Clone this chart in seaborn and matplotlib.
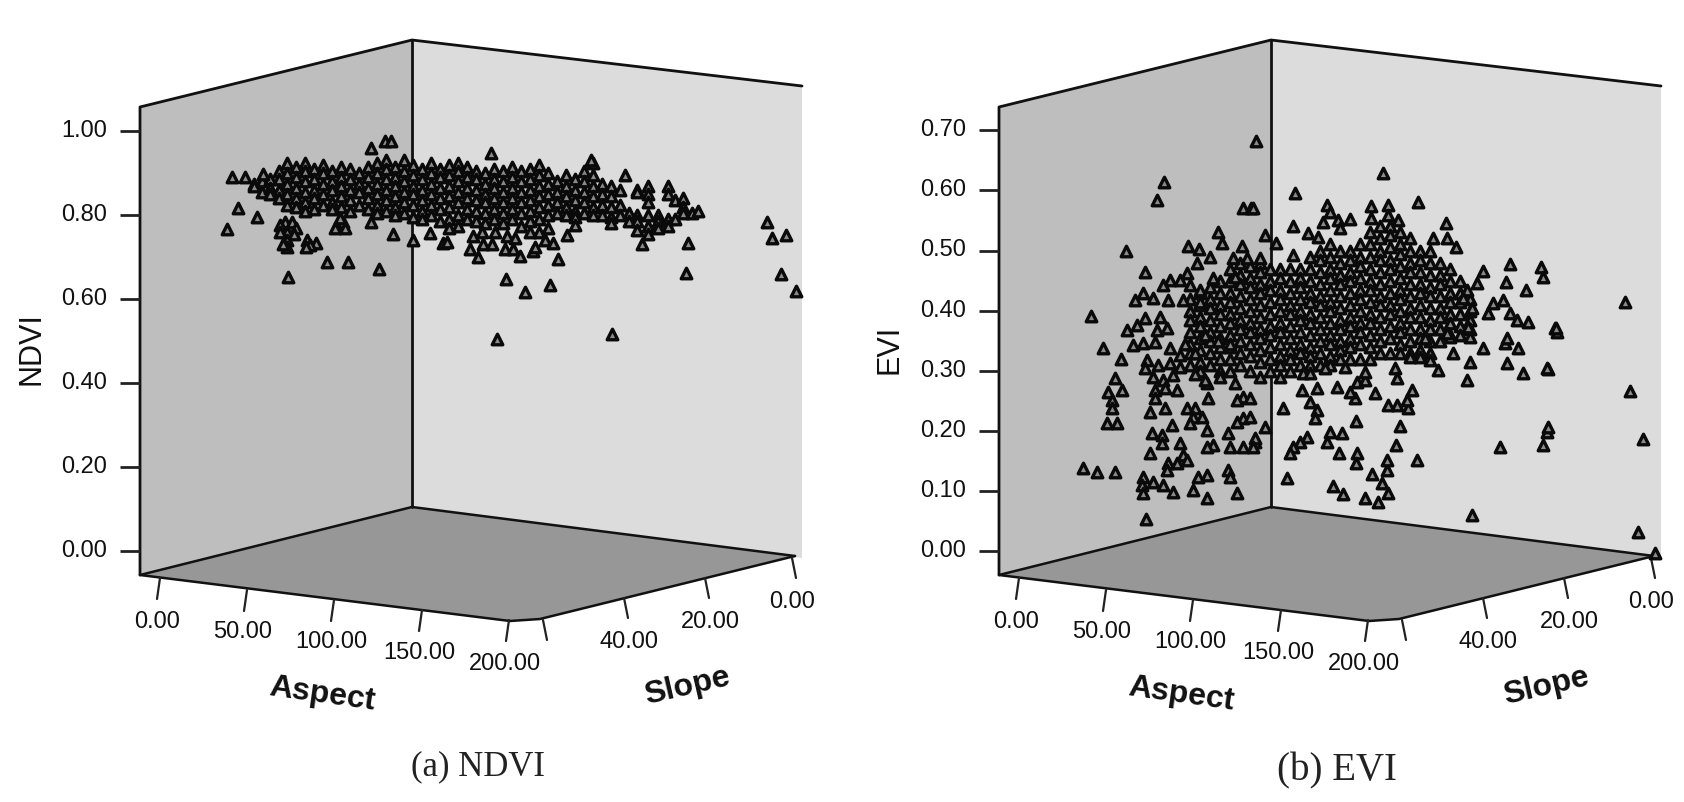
import numpy as np
import pandas as pd
import seaborn as sns
import matplotlib.pyplot as plt
from matplotlib.patches import Polygon

# valores: x = posicao horizontal na vista 3D, y = indice
ndvi_ticks = [0.0, 0.2, 0.4, 0.6, 0.8, 1.0]
evi_ticks = [0.0, 0.1, 0.2, 0.3, 0.4, 0.5, 0.6, 0.7]
aspect_labels = ['0.00', '50.00', '100.00', '150.00', '200.00']
slope_labels = ['40.00', '20.00', '0.00']

ndvi_band_x = [254, 262, 270, 279, 287, 296, 305, 314, 323, 332, 341, 350, 359, 368, 377, 386, 395, 404,
               413, 422, 431, 440, 449, 458, 467, 476, 485, 494, 503, 512, 521, 530, 539, 548, 557, 566,
               575, 584, 593, 602, 611, 620, 629, 637, 648, 658, 668, 675, 683, 692, 698]
ndvi_band_y = [
    [.875, .87], [.88, .855], [.885, .865, .85], [.905, .885, .86, .84], [.925, .90, .875, .85, .825],
    [.915, .89, .865, .84, .82], [.925, .905, .88, .855, .83, .81], [.91, .885, .86, .84, .815],
    [.92, .90, .875, .85, .825], [.905, .88, .86, .83, .815], [.915, .89, .87, .845, .82],
    [.91, .885, .86, .835, .81], [.90, .875, .855, .825], [.915, .89, .865, .84, .815],
    [.925, .90, .875, .85, .825, .805], [.93, .91, .885, .86, .835, .81], [.915, .89, .87, .845, .82, .80],
    [.93, .905, .88, .855, .83, .805], [.92, .895, .87, .85, .825, .795], [.91, .885, .86, .835, .81, .79],
    [.925, .90, .875, .85, .825, .80], [.91, .89, .865, .84, .815, .785], [.92, .895, .87, .845, .82, .79, .77],
    [.925, .905, .88, .855, .83, .80, .775], [.915, .89, .865, .84, .815, .79], [.905, .885, .86, .835, .81, .785],
    [.90, .875, .85, .83, .805, .78], [.91, .885, .865, .84, .815, .79], [.905, .88, .855, .83, .805, .78],
    [.915, .89, .865, .84, .815, .79], [.905, .88, .855, .83, .805, .775], [.91, .885, .86, .835, .81, .785, .76],
    [.92, .895, .87, .845, .82, .79, .76], [.90, .875, .85, .825, .80, .77], [.88, .855, .83, .805],
    [.895, .87, .845, .82, .80], [.885, .86, .835, .81, .795], [.905, .88, .855, .83, .805],
    [.925, .895, .87, .845, .82, .80], [.875, .85, .825, .80], [.87, .845, .82, .795, .78],
    [.86, .825, .80], [.805, .785], [.86, .855, .80, .785, .765], [.87, .85, .83, .80, .775, .755],
    [.80, .785, .77], [.87, .85, .79, .775], [.835, .79], [.84, .82, .805], [.805], [.81],
]

ndvi_out_x = [232, 245, 263, 238, 257, 227, 288, 327, 348, 379, 393, 413, 430, 371, 385, 391, 371, 337, 343,
              340, 335, 345, 285, 292, 280, 296, 287, 280, 294, 287, 287, 283, 307, 316, 310, 306,
              497, 612, 686, 688, 642, 506, 525, 550, 558, 520, 491, 625, 591, 767, 772, 786, 781, 796,
              473, 482, 495, 507, 515, 470, 478, 483, 492, 505, 513, 533, 535, 545, 553, 567, 575, 443, 447]
ndvi_out_y = [.890, .890, .898, .817, .795, .767, .652, .688, .688, .671, .755, .740, .757, .960, .976, .976,
              .783, .776, .783, .793, .769, .769, .783, .783, .776, .769, .76, .76, .755, .74, .724, .73,
              .74, .733, .728, .724, .505, .517, .662, .733, .731, .648, .617, .633, .695, .702, .947,
              .895, .931, .783, .745, .752, .66, .619, .75, .76, .76, .75, .745, .72, .70, .73, .73, .72, .72,
              .715, .725, .74, .733, .752, .776, .733, .735]

evi_core_x = [1190, 1200, 1210, 1220, 1230, 1240, 1250, 1260, 1270, 1280, 1290, 1300, 1310, 1320, 1330,
              1340, 1350, 1360, 1370, 1380, 1390, 1400, 1410, 1420, 1430, 1440, 1450, 1460, 1470]
evi_core_y = [
    [.42, .40, .385, .365, .345, .33, .31], [.43, .41, .39, .375, .355, .335, .315, .30],
    [.44, .42, .405, .385, .365, .35, .33, .31], [.45, .43, .41, .395, .375, .355, .34, .32, .30],
    [.47, .45, .43, .415, .395, .38, .36, .34, .32, .30], [.48, .46, .445, .425, .405, .385, .37, .35, .33, .31],
    [.475, .455, .44, .42, .40, .38, .365, .345, .325, .30], [.48, .465, .445, .43, .41, .39, .37, .355, .335, .315, .29],
    [.47, .45, .435, .415, .395, .375, .36, .34, .32, .30], [.47, .455, .435, .42, .40, .38, .365, .345, .325, .31, .29],
    [.47, .45, .43, .41, .395, .375, .355, .335, .32, .30], [.47, .455, .44, .42, .40, .385, .365, .345, .33, .31],
    [.49, .47, .45, .43, .415, .395, .38, .36, .34, .325, .31], [.50, .485, .465, .445, .425, .41, .39, .37, .35, .33, .31],
    [.51, .49, .47, .455, .435, .415, .40, .38, .36, .345, .325, .31], [.50, .48, .46, .445, .425, .405, .385, .37, .35, .335, .32],
    [.50, .485, .465, .45, .43, .41, .39, .375, .355, .34, .32], [.51, .49, .475, .455, .435, .42, .40, .38, .365, .345, .32],
    [.53, .51, .49, .47, .45, .435, .415, .395, .38, .36, .34, .32], [.54, .52, .50, .485, .465, .445, .425, .41, .39, .37, .35, .33],
    [.54, .525, .505, .485, .47, .45, .43, .41, .395, .375, .355, .33], [.53, .51, .495, .475, .455, .435, .42, .40, .38, .365, .345, .33],
    [.52, .50, .48, .465, .445, .425, .405, .39, .37, .35, .33], [.50, .485, .465, .445, .43, .41, .39, .37, .355, .335],
    [.50, .48, .46, .44, .425, .405, .385, .37, .35, .33], [.48, .46, .445, .425, .405, .39, .37, .35],
    [.47, .45, .43, .415, .395, .38, .36], [.45, .43, .415, .395, .375, .36], [.42, .40, .385, .37],
]

evi_left_x = [1164, 1157, 1126, 1145, 1243, 1251, 1218, 1222, 1242, 1188, 1199, 1210, 1197, 1256, 1187, 1170,
              1180, 1163, 1190, 1200, 1213, 1168, 1153, 1143, 1135, 1183, 1200, 1233, 1247, 1235,
              1091, 1103, 1121, 1115, 1108, 1122, 1112, 1112, 1107, 1117, 1083, 1097, 1115, 1127, 1145, 1160,
              1137, 1167, 1157, 1143, 1133, 1155, 1170, 1180, 1147, 1158, 1170, 1180, 1145, 1153, 1173, 1163,
              1155, 1165, 1177, 1155, 1150, 1165, 1187, 1195, 1208, 1193, 1202, 1172, 1190, 1207, 1152, 1162,
              1162, 1228, 1213, 1207, 1230, 1243, 1255, 1180, 1183, 1150, 1168, 1177, 1187, 1167, 1143, 1153,
              1163, 1142, 1143, 1173, 1193, 1198, 1207, 1228, 1230, 1237, 1207, 1243, 1237, 1250, 1243, 1237,
              1250, 1207, 1146, 1195, 1205, 1220, 1235, 1185, 1195, 1205, 1218, 1230]
evi_left_y = [.614, .584, .50, .464, .57, .57, .53, .512, .507, .507, .502, .489, .479, .682, .462, .451, .451,
              .443, .443, .434, .454, .418, .421, .429, .418, .418, .414, .488, .488, .456, .391, .338, .319,
              .288, .265, .268, .251, .238, .213, .213, .138, .131, .131, .368, .388, .389, .376, .371, .368,
              .346, .343, .348, .338, .326, .318, .309, .313, .306, .304, .289, .293, .285, .268, .271, .268,
              .255, .231, .238, .238, .238, .255, .223, .223, .21, .213, .201, .196, .193, .18, .196, .176,
              .173, .173, .173, .181, .18, .16, .163, .146, .146, .151, .135, .123, .115, .11, .11, .096, .098,
              .101, .123, .126, .135, .123, .096, .088, .221, .215, .223, .256, .251, .255, .28, .053, .295,
              .285, .29, .28, .345, .33, .36, .35, .345]

evi_right_x = [1283, 1265, 1255, 1253, 1307, 1300, 1293, 1290, 1287, 1330, 1342, 1327, 1339, 1356, 1357, 1356,
               1372, 1333, 1343, 1365, 1378, 1382, 1388, 1387, 1387, 1396, 1400, 1417, 1472, 1500, 1543, 1547,
               1548, 1388, 1397, 1408, 1407, 1412, 1375, 1355, 1350, 1357, 1365, 1337, 1317, 1302, 1310, 1317,
               1315, 1303, 1310, 1325, 1345, 1395, 1397, 1365, 1438, 1467, 1470, 1507, 1523, 1548, 1505, 1518,
               1483, 1453, 1425, 1450, 1470, 1420, 1410, 1430, 1557, 1383, 1295, 1253, 1327, 1418, 1371, 1388,
               1388, 1371, 1350, 1338, 1323, 1330, 1293, 1308, 1318, 1340, 1398, 1446, 1433, 1447, 1456, 1265,
               1276, 1293, 1260, 1483, 1510, 1541, 1543, 1506, 1526, 1477, 1467, 1463, 1503, 1493, 1488, 1472,
               1510, 1517, 1528, 1555, 1468, 1447, 1507, 1625, 1630, 1643, 1638, 1655, 1556, 1547]
evi_right_y = [.238, .206, .188, .173, .19, .181, .173, .163, .121, .198, .196, .181, .163, .216, .163, .146,
               .128, .108, .095, .088, .082, .113, .096, .135, .151, .176, .208, .151, .06, .173, .176, .198,
               .206, .243, .243, .238, .251, .268, .263, .255, .265, .281, .285, .273, .271, .268, .248, .235,
               .221, .296, .296, .304, .306, .304, .288, .298, .301, .285, .314, .313, .296, .303, .346, .338,
               .338, .329, .354, .356, .356, .323, .323, .318, .364, .629, .596, .571, .576, .581, .574, .576,
               .559, .554, .552, .55, .547, .564, .541, .529, .522, .538, .551, .546, .521, .521, .506, .526,
               .512, .493, .488, .466, .478, .473, .456, .447, .434, .446, .434, .421, .418, .413, .396, .404,
               .396, .384, .381, .371, .373, .363, .354, .414, .266, .186, .032, -.003, .371, .304]


def flatten(xs, ys):
    px, py = [], []
    for x, col in zip(xs, ys):
        for v in col:
            px.append(x)
            py.append(v)
    return px, py


x1, y1 = flatten(ndvi_band_x, ndvi_band_y)
df_ndvi = pd.DataFrame({'pos': x1 + ndvi_out_x, 'NDVI': y1 + ndvi_out_y})
x2, y2 = flatten(evi_core_x, evi_core_y)
df_evi = pd.DataFrame({'pos': x2 + evi_left_x + evi_right_x, 'EVI': y2 + evi_left_y + evi_right_y})

sns.set_theme(style='white')
plt.rcParams['font.family'] = ['Liberation Sans', 'DejaVu Sans']

W, H = 1684, 802
fig = plt.figure(figsize=(W / 100, H / 100), dpi=100, facecolor='white')

# caixa 3D em pixels da figura, atras dos pontos
bg = fig.add_axes([0, 0, 1, 1])
bg.set_xlim(0, W)
bg.set_ylim(H, 0)
bg.axis('off')


def draw_box(dx):
    def p(x, y):
        return (x + dx, y)
    left = [p(140, 107), p(412, 40), p(412, 507), p(140, 575)]
    right = [p(412, 40), p(802, 86), p(802, 558), p(412, 507)]
    floor = [p(140, 575), p(412, 507), p(795, 556), p(540, 619), p(510, 621)]
    bg.add_patch(Polygon(left, fc='#bebebe', ec='none'))
    bg.add_patch(Polygon(right, fc='#dcdcdc', ec='none'))
    bg.add_patch(Polygon(floor, fc='#979797', ec='none'))
    c = '#111111'
    bg.plot([140 + dx, 140 + dx, 412 + dx, 802 + dx], [575, 107, 40, 86], color=c, lw=2)
    bg.plot([412 + dx, 412 + dx], [40, 507], color=c, lw=2)
    bg.plot([140 + dx, 412 + dx, 795 + dx], [575, 507, 556], color=c, lw=1.8)
    bg.plot([140 + dx, 510 + dx, 540 + dx, 795 + dx], [575, 621, 619, 556], color=c, lw=1.8)

    # ticks de Aspect e Slope
    for lab, tx, ty, lx, ly in zip(aspect_labels, [158, 245, 332, 420, 507], [578, 590, 600, 610, 620],
                                   [157, 243, 331, 419, 505], [622, 632, 642, 653, 664]):
        bg.plot([tx + 2 + dx, tx - 1 + dx], [ty, ty + 21], color='#222222', lw=1.6)
        bg.text(lx + dx, ly, lab, ha='center', va='center', fontsize=17, color='#111111')
    for lab, tx, ty, lx, ly in zip(slope_labels, [625, 706, 793], [598, 578, 558], [629, 710, 792], [642, 622, 602]):
        bg.plot([tx - 1 + dx, tx + 3 + dx], [ty, ty + 20], color='#222222', lw=1.6)
        bg.text(lx + dx, ly, lab, ha='center', va='center', fontsize=17, color='#111111')
    bg.plot([543 + dx, 547 + dx], [620, 640], color='#222222', lw=1.6)

    bg.text(322 + dx, 695, 'Aspect', ha='center', va='center', rotation=-8, fontsize=23,
            fontweight='bold', color='#111111')
    bg.text(687 + dx, 687, 'Slope', ha='center', va='center', rotation=13, fontsize=23,
            fontweight='bold', color='#111111')


draw_box(0)
draw_box(859)
bg.text(478, 767, '(a) NDVI', ha='center', va='center', fontsize=25, family='Liberation Serif', color='#222222')
bg.text(1337, 771, '(b) EVI', ha='center', va='center', fontsize=28, family='Liberation Serif', color='#222222')


def scatter_panel(df, col, x0, x1, ppu, ticks, wall_x, label_x):
    # eixo transparente com a escala do indice: 0 fica em y=551 px
    ax = fig.add_axes([x0 / W, 0, (x1 - x0) / W, 1])
    ax.patch.set_alpha(0)
    sns.scatterplot(data=df, x='pos', y=col, marker='^', s=58, color='#8a8a8a', edgecolor='#0a0a0a',
                    linewidth=2.4, legend=False, ax=ax)
    ax.set_xlim(x0, x1)
    ax.set_ylim((551 - H) / ppu, 551 / ppu)
    ax.axis('off')
    ax.hlines(ticks, wall_x - 20, wall_x, color='#222222', lw=2)
    for t in ticks:
        ax.text(wall_x - 33, t, '%.2f' % t, ha='right', va='center', fontsize=17, color='#111111')
    ax.text(label_x, 202 / ppu, col, rotation=90, ha='center', va='center', fontsize=22, color='#111111')


scatter_panel(df_ndvi, 'NDVI', 0, 842, 420, ndvi_ticks, 140, 32)
scatter_panel(df_evi, 'EVI', 842, 1684, 601, evi_ticks, 999, 889)

plt.savefig('out.png', dpi=100)
